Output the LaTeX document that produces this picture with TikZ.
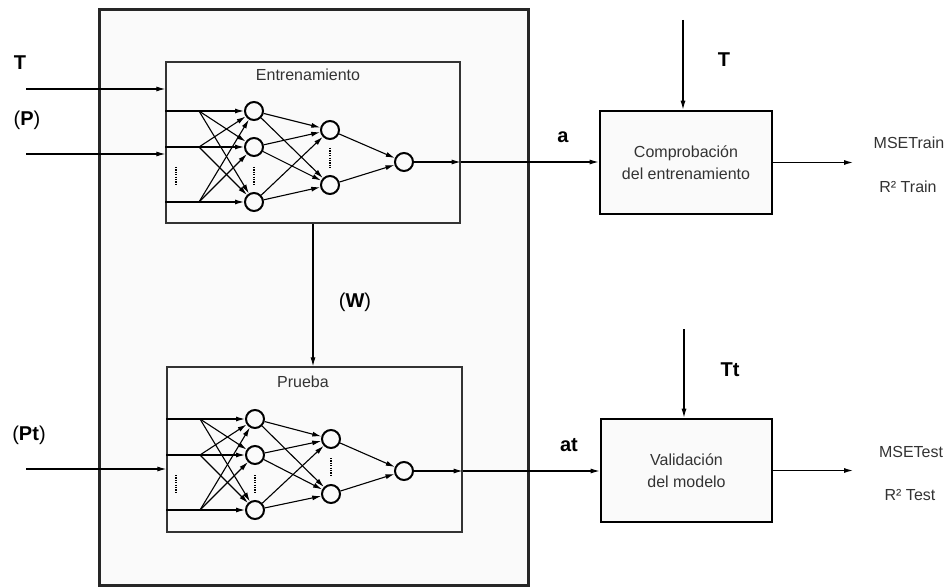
\documentclass[tikz,border=0pt]{standalone}
\usepackage{fontspec}
\setmainfont{Liberation Sans}
\usetikzlibrary{arrows.meta,calc}
\definecolor{boxfill}{HTML}{FAFAFA}
\definecolor{txt}{HTML}{333333}
\begin{document}
\begin{tikzpicture}[x=1pt,y=-1pt,
  neuron/.style={circle,draw,line width=2pt,minimum size=18pt,inner sep=0pt,fill=boxfill},
  conn/.style={line width=1.1pt,-{Latex[length=9pt,width=5pt]}},
  dotsv/.style={line width=1.8pt,dash pattern=on 1.2pt off 1.2pt},
  bigbox/.style={draw=black!85,line width=3pt,fill=boxfill,inner sep=0pt},
  netbox/.style={draw=black!80,line width=1.4pt,fill=boxfill,inner sep=0pt},
  procbox/.style={draw=black,line width=2.6pt,fill=boxfill,inner sep=0pt,align=center,text=txt,font=\fontsize{16}{22}\selectfont},
  lbl/.style={font=\fontsize{20}{24}\selectfont\bfseries,inner sep=0pt},
  small/.style={font=\fontsize{16}{18}\selectfont,text=txt,inner sep=0pt}
]
\useasboundingbox (0,0) rectangle (948,588);
\fill[white] (0,0) rectangle (948,588);

% containers
\node[bigbox,minimum width=429pt,minimum height=575pt] (outer) at (313.5,297.5) {};
\node[netbox,minimum width=294pt,minimum height=161pt] (trainbox) at (313,142.5) {};
\node[netbox,minimum width=295pt,minimum height=165pt] (testbox) at (314.5,449.5) {};
\node[small] (lentr) at (308,75) {Entrenamiento};
\node[small] (lprue) at (303,382) {Prueba};

% processing boxes
\node[procbox,minimum width=172pt,minimum height=103pt] (check) at (686,162.5) {Comprobación\\del entrenamiento};
\node[procbox,minimum width=171pt,minimum height=103pt] (valid) at (686.5,470.5) {Validación\\del modelo};

% ---------- training network ----------
\node[neuron] (t11) at (254,111) {};
\node[neuron] (t12) at (254,147) {};
\node[neuron] (t13) at (254,202) {};
\node[neuron] (t21) at (330,130) {};
\node[neuron] (t22) at (330,185) {};
\node[neuron] (to)  at (404,162) {};
\coordinate (tf1) at (199,111);
\coordinate (tf2) at (199,147);
\coordinate (tf3) at (199,202);
\draw[conn] (trainbox.west |- t11) -- (t11);
\draw[conn] (trainbox.west |- t12) -- (t12);
\draw[conn] (trainbox.west |- t13) -- (t13);
\draw[conn] (tf1) -- (t12);
\draw[conn] (tf1) -- (t13);
\draw[conn] (tf2) -- (t11);
\draw[conn] (tf2) -- (t13);
\draw[conn] (tf3) -- (t11);
\draw[conn] (tf3) -- (t12);
\foreach \a in {t11,t12,t13}{
  \draw[conn] (\a) -- (t21);
  \draw[conn] (\a) -- (t22);
}
\draw[conn] (t21) -- (to);
\draw[conn] (t22) -- (to);
\draw[dotsv] (176,167) -- (176,185);
\draw[dotsv] (254,167) -- (254,185);
\draw[dotsv] (330,148) -- (330,168);

% ---------- test network ----------
\node[neuron] (s11) at (255,419) {};
\node[neuron] (s12) at (255,455) {};
\node[neuron] (s13) at (255,510) {};
\node[neuron] (s21) at (331,439) {};
\node[neuron] (s22) at (331,494) {};
\node[neuron] (so)  at (404,471) {};
\coordinate (sf1) at (200,419);
\coordinate (sf2) at (200,455);
\coordinate (sf3) at (200,510);
\draw[conn] (testbox.west |- s11) -- (s11);
\draw[conn] (testbox.west |- s12) -- (s12);
\draw[conn] (testbox.west |- s13) -- (s13);
\draw[conn] (sf1) -- (s12);
\draw[conn] (sf1) -- (s13);
\draw[conn] (sf2) -- (s11);
\draw[conn] (sf2) -- (s13);
\draw[conn] (sf3) -- (s11);
\draw[conn] (sf3) -- (s12);
\foreach \a in {s11,s12,s13}{
  \draw[conn] (\a) -- (s21);
  \draw[conn] (\a) -- (s22);
}
\draw[conn] (s21) -- (so);
\draw[conn] (s22) -- (so);
\draw[dotsv] (176,475) -- (176,493);
\draw[dotsv] (255,475) -- (255,493);
\draw[dotsv] (331,458) -- (331,477);

% ---------- external inputs ----------
\coordinate (Tin) at (26,89);
\coordinate (Pin) at (26,154);
\coordinate (Ptin) at (26,469);
\draw[conn] (Tin) -- (trainbox.west |- Tin);
\draw[conn] (Pin) -- (trainbox.west |- Pin);
\draw[conn] (Ptin) -- (testbox.west |- Ptin);
\node[lbl] (lT) at (20,63) {T};
\node[lbl] (lP) at (27,120) {\mdseries(\textbf{P})};
\node[lbl] (lPt) at (29,435) {\mdseries(\textbf{Pt})};

% W link
\draw[conn] (trainbox.south) -- (trainbox.south |- testbox.north);
\node[lbl] (lW) at (355,302) {\mdseries(\textbf{W})};

% outputs of networks
\draw[conn] (to) -- (trainbox.east |- to);
\draw[conn] (trainbox.east |- to) -- (check.west |- to);
\draw[conn] (so) -- (testbox.east |- so);
\draw[conn] (testbox.east |- so) -- (valid.west |- so);
\node[lbl] (la) at (563,137) {a};
\node[lbl] (lat) at (569,445) {at};

% targets
\coordinate (Ttop) at (683,20);
\coordinate (Tttop) at (684,329);
\draw[conn] (Ttop) -- (Ttop |- check.north);
\draw[conn] (Tttop) -- (Tttop |- valid.north);
\node[lbl] (lT2) at (724,60) {T};
\node[lbl] (lTt) at (730,370) {Tt};

% results
\coordinate (o1) at (853,162.5);
\coordinate (o2) at (853,470.5);
\draw[conn] (check.east) -- (o1);
\draw[conn] (valid.east) -- (o2);
\node[small] (m1) at (909,143) {MSETrain};
\node[small] (r1) at (908,187) {R² Train};
\node[small] (m2) at (911,452) {MSETest};
\node[small] (r2) at (910,495) {R² Test};
\end{tikzpicture}
\end{document}
